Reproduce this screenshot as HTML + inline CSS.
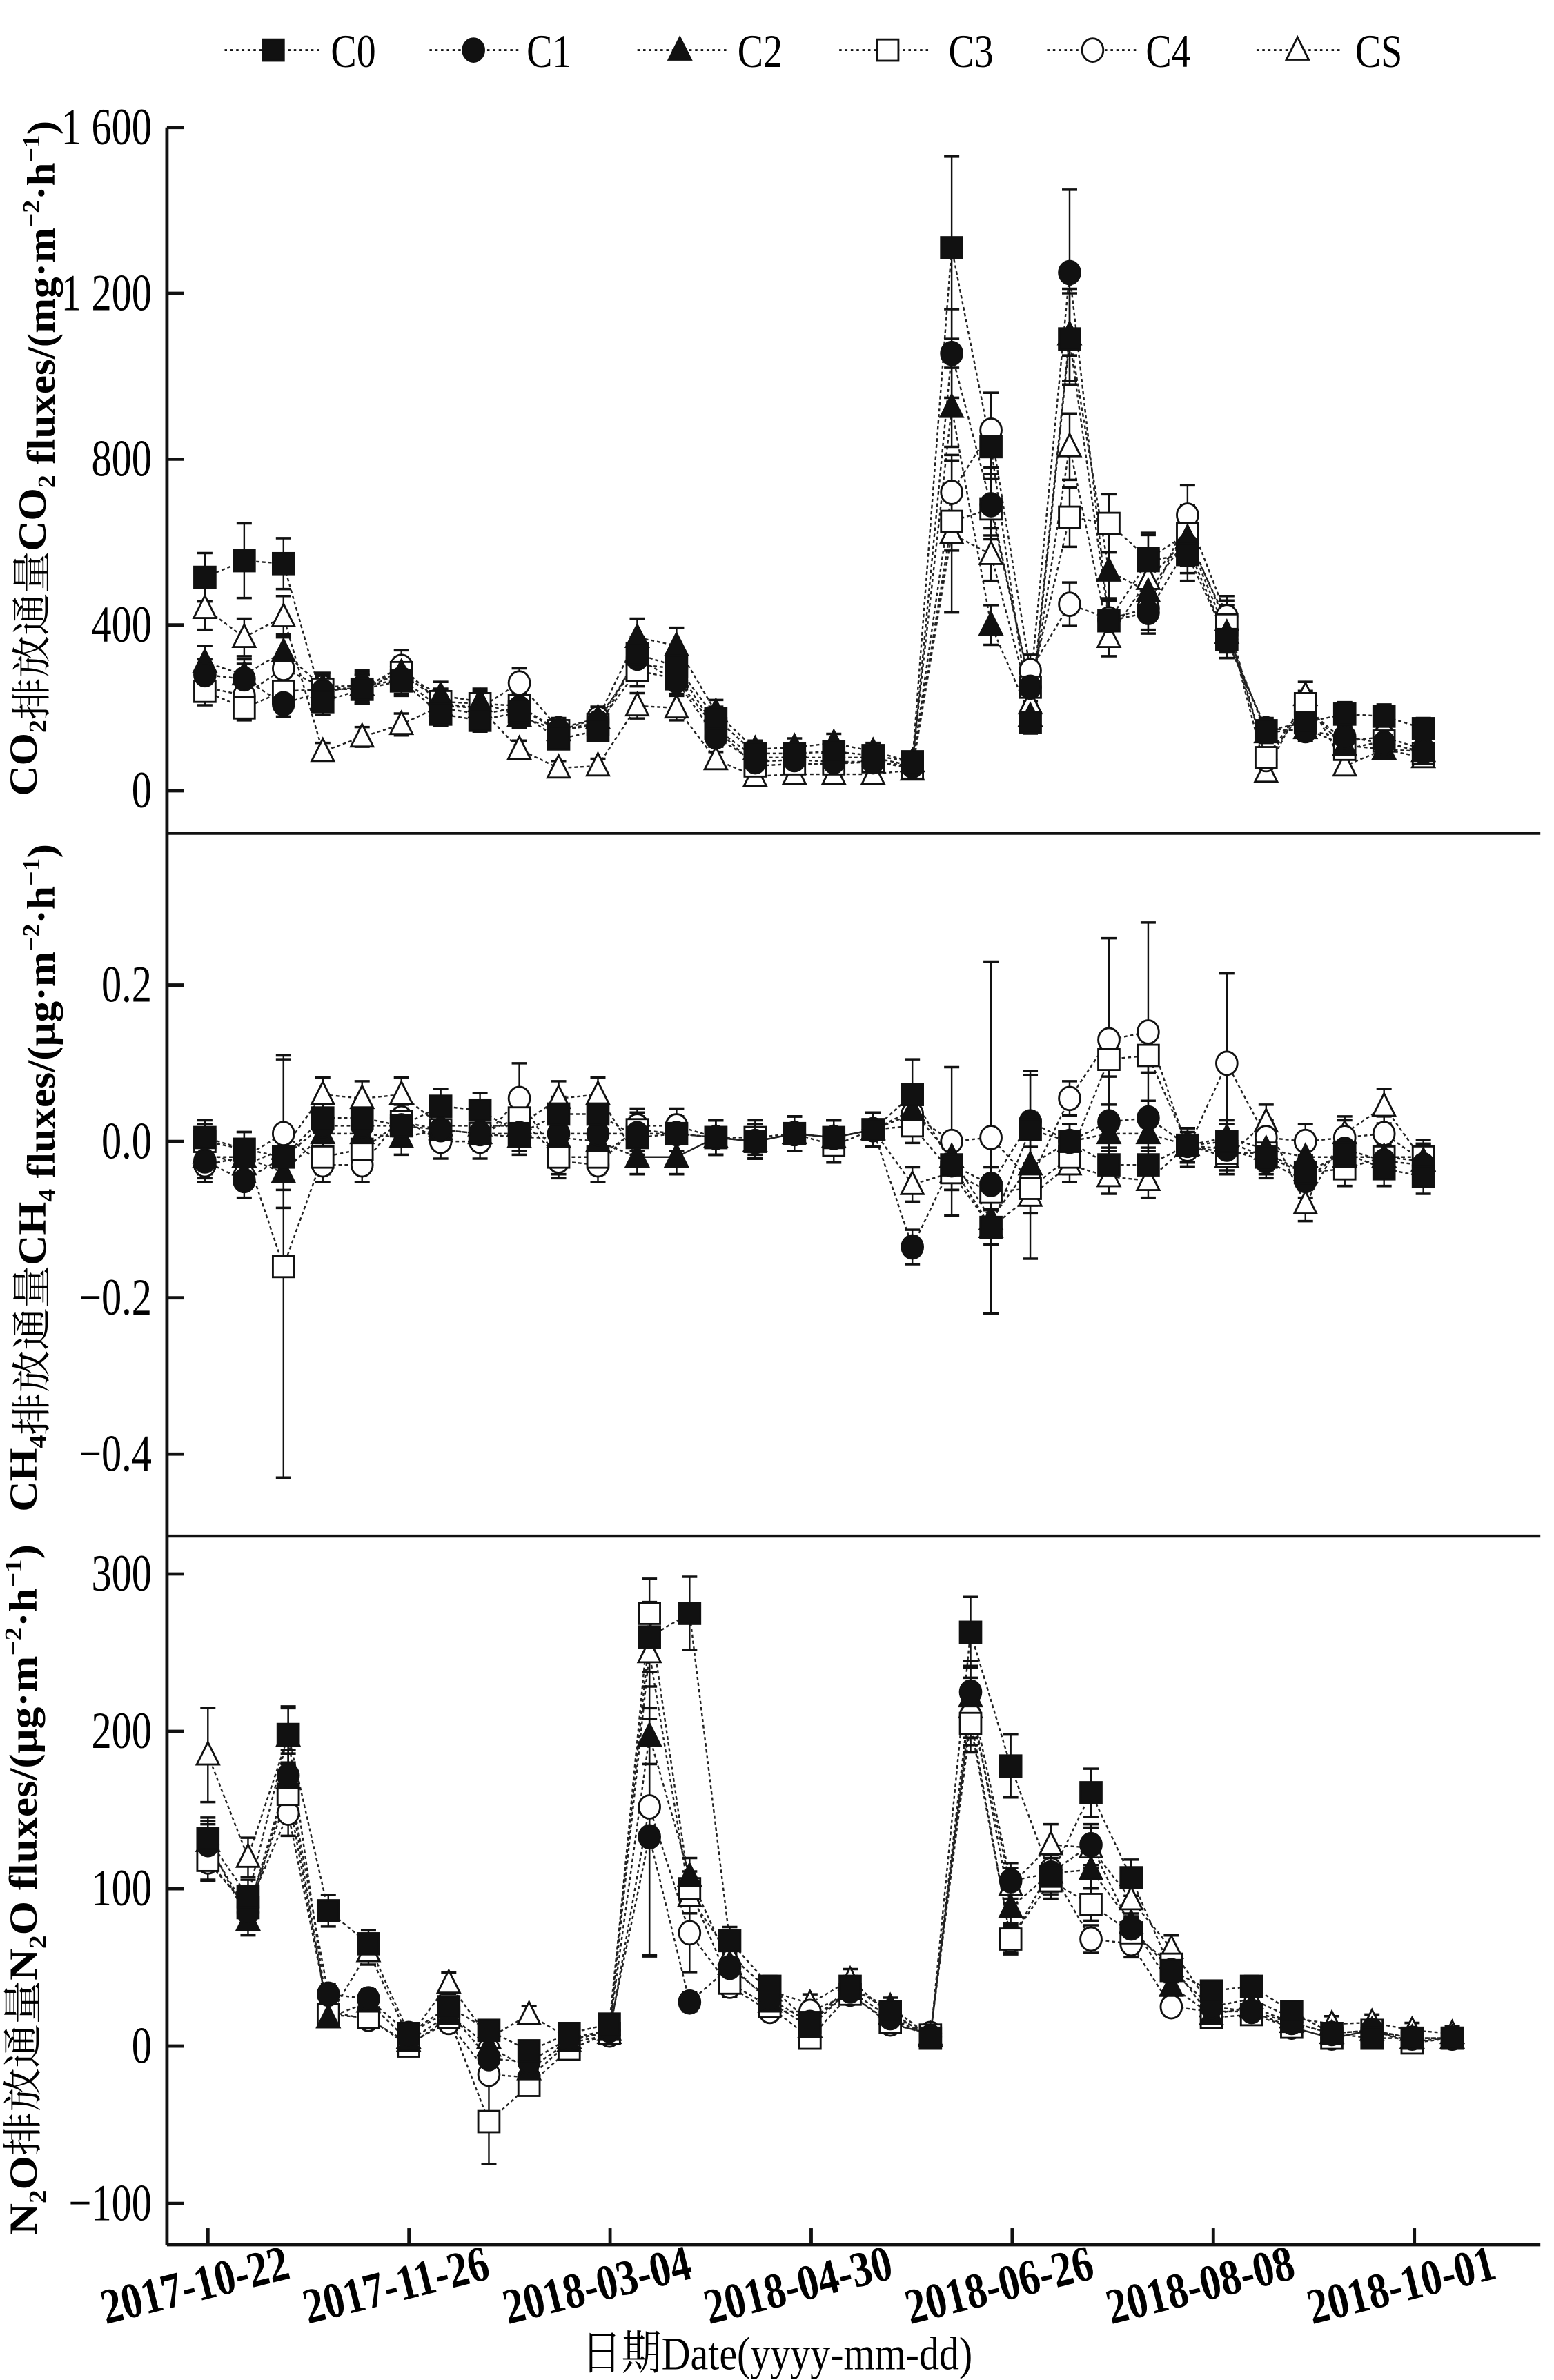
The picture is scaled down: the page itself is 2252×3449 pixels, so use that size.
<!DOCTYPE html>
<html><head><meta charset="utf-8">
<style>html,body{margin:0;padding:0;background:#fff;}svg{display:block;}</style>
</head><body>
<svg id="s" xmlns="http://www.w3.org/2000/svg" width="2252" height="3449" viewBox="0 0 1024 1568" preserveAspectRatio="none" font-family="'Liberation Serif','Noto Serif CJK SC',serif">
<rect width="1024" height="1568" fill="#fff"/>
<g id="g"></g>
</svg>
<script>
const G=document.getElementById('g');
let out='';
function line(x1,y1,x2,y2,w,dash){out+=`<line x1="${x1}" y1="${y1}" x2="${x2}" y2="${y2}" stroke="#111" stroke-width="${w}"${dash?` stroke-dasharray="${dash}"`:''}/>`;}
function text(x,y,t,size,anchor,extra){out+=`<text x="${x}" y="${y}" font-size="${size}" text-anchor="${anchor||'start'}" ${extra||''}>${t}</text>`;}
function marker(k,x,y,s){s=s||7;
 const fill=k<3?'#111':'#fff';
 if(k%3==0) out+=`<rect x="${x-s}" y="${y-s}" width="${2*s}" height="${2*s}" fill="${fill}" stroke="#111" stroke-width="1.3"/>`;
 else if(k%3==1) out+=`<ellipse cx="${x}" cy="${y}" rx="${s}" ry="${s*1.1}" fill="${fill}" stroke="#111" stroke-width="1.3"/>`;
 else out+=`<polygon points="${x},${y-s*1.2} ${x+s*1.05},${y+s*0.9} ${x-s*1.05},${y+s*0.9}" fill="${fill}" stroke="#111" stroke-width="1.3"/>`;}
line(110,84,110,1479,2.2);
line(110,549,1015,549,2);line(110,1012,1015,1012,2);line(110,1479,1015,1479,2);
function ytick(y,lab){line(110,y,121,y,2.2);text(100,y+11,lab,34,'end',`transform="translate(100 0) scale(0.78 1) translate(-100 0)"`);}
const c2y=v=>521-v*437/1600;
[[1600,'1 600'],[1200,'1 200'],[800,'800'],[400,'400'],[0,'0']].forEach(a=>ytick(c2y(a[0]),a[1]));
const c4y=v=>752-v*515;
[[0.2,'0.2'],[0,'0.0'],[-0.2,'−0.2'],[-0.4,'−0.4']].forEach(a=>ytick(c4y(a[0]),a[1]));
const n2y=v=>1348-v*311/300;
[[300,'300'],[200,'200'],[100,'100'],[0,'0'],[-100,'−100']].forEach(a=>ytick(n2y(a[0]),a[1]));
const dates=['2017-10-22','2017-11-26','2018-03-04','2018-04-30','2018-06-26','2018-08-08','2018-10-01'];
for(let i=0;i<7;i++){const x=137+i*132.5;line(x,1479,x,1468,2.2);
 out+=`<text font-size="33" font-weight="bold" text-anchor="middle" transform="translate(${x-6} 1516) rotate(-14) scale(0.82 1)">${dates[i]}</text>`;}
const CO2=[
[515,555,548,215,245,265,185,170,190,125,145,330,300,175,90,90,95,85,70,1310,830,165,1090,410,555,570,365,145,165,185,180,150],
[280,270,210,240,250,270,200,185,200,145,165,320,265,130,70,75,70,70,60,1055,690,250,1250,410,430,590,365,150,145,130,115,95],
[310,280,335,250,255,285,230,215,180,145,175,370,350,190,100,105,115,95,70,925,400,180,1100,530,480,610,380,140,150,110,100,95],
[240,200,240,245,245,285,215,210,205,145,160,290,270,150,60,65,65,70,55,650,680,250,660,645,560,620,400,80,210,100,120,90],
[250,230,295,250,245,300,210,200,260,150,175,305,295,150,80,80,80,80,60,720,870,290,450,415,440,665,420,75,200,120,130,100],
[440,370,420,95,130,160,205,200,100,55,60,205,200,75,35,40,40,40,50,620,570,210,830,370,510,610,410,45,230,60,100,80]];
const CH4=[
[0.005,-0.01,-0.02,0.03,0.03,0.02,0.045,0.04,0.01,0.035,0.035,0.005,0.01,0.005,0.0,0.01,0.005,0.015,0.06,-0.03,-0.11,0.015,0.0,-0.03,-0.03,-0.005,0.0,-0.02,-0.04,-0.015,-0.035,-0.045],
[-0.025,-0.05,-0.02,0.02,0.02,0.02,0.015,0.01,0.01,0.01,0.01,0.01,0.01,0.005,0.0,0.01,0.005,0.015,-0.135,-0.03,-0.055,0.025,0.0,0.025,0.03,-0.005,-0.01,-0.025,-0.05,-0.01,-0.025,-0.03],
[-0.02,-0.02,-0.04,0.01,0.01,0.005,0.015,0.01,0.005,0.005,0.0,-0.02,-0.02,0.005,0.0,0.01,0.005,0.015,0.04,-0.02,-0.1,-0.03,0.0,0.01,0.01,-0.005,0.005,-0.01,-0.02,-0.02,-0.02,-0.025],
[0.0,-0.01,-0.16,-0.02,-0.01,0.025,0.015,0.01,0.03,-0.02,-0.02,0.015,0.01,0.005,0.005,0.01,-0.005,0.015,0.02,-0.04,-0.065,-0.06,-0.02,0.105,0.11,-0.005,-0.015,-0.015,-0.04,-0.035,-0.02,-0.02],
[-0.03,-0.02,0.01,-0.03,-0.03,0.03,0.0,0.0,0.055,-0.025,-0.03,0.02,0.02,0.005,0.0,0.01,0.005,0.015,0.035,0.0,0.005,-0.05,0.055,0.13,0.14,-0.01,0.1,0.005,0.0,0.005,0.01,-0.025],
[-0.015,-0.03,-0.01,0.06,0.055,0.06,0.02,0.02,0.02,0.055,0.06,-0.02,-0.02,0.005,0.0,0.01,0.005,0.015,-0.055,-0.04,-0.11,-0.07,-0.03,-0.045,-0.05,-0.005,-0.02,0.025,-0.08,0.01,0.045,-0.025]];
const N2O=[
[132,95,198,86,65,8,25,10,-3,8,14,260,275,67,38,15,38,22,5,263,178,108,161,107,48,35,38,22,8,5,5,5],
[128,85,172,33,30,8,22,-8,-10,5,10,133,28,50,30,15,35,18,6,225,105,110,128,75,48,25,22,15,8,10,5,5],
[130,80,170,18,28,3,20,0,-15,3,10,197,108,52,28,12,36,25,6,222,88,110,112,78,38,20,25,15,8,10,5,5],
[118,88,160,20,18,0,18,-48,-25,-2,8,275,100,40,25,5,33,15,7,205,68,105,90,72,52,18,20,12,5,10,2,5],
[117,88,148,22,17,2,15,-18,-20,2,7,152,72,38,22,22,33,14,8,210,67,112,68,65,25,22,22,12,5,10,3,5],
[185,120,197,18,60,5,40,5,20,5,8,250,95,58,35,27,42,20,7,215,102,128,126,93,62,25,30,18,14,15,10,8]];
function panel(data,yf,x0,dx,errf){
 for(let k=0;k<6;k++){let p=data[k].map((v,i)=>`${(x0+dx*i).toFixed(1)},${yf(v).toFixed(1)}`).join(' ');
  out+=`<polyline points="${p}" fill="none" stroke="#222" stroke-width="1.1" stroke-dasharray="2.2 1.8"/>`;}
 for(let k=0;k<6;k++)data[k].forEach((v,i)=>{const x=x0+dx*i;const e=errf(v,k,i);if(e<=0)return;
  const y1=yf(v+e),y2=yf(v-e);line(x,y1,x,y2,1.1);line(x-5,y1,x+5,y1,1.6);line(x-5,y2,x+5,y2,1.6);});
 for(let k=5;k>=0;k--)data[k].forEach((v,i)=>marker(k,x0+dx*i,yf(v)));
}
panel(CO2,c2y,135,25.9,(v,k,i)=>{if(i==19&&k==0)return 220;if(i==22&&k==1)return 200;if(i==20&&k==0)return 130;if(i==22&&k==5)return 80;if(i==19&&k==5)return 190;if(i==23&&k==2)return 120;if(i==1&&k==0)return 90;return v*0.09+12;});
panel(CH4,c4y,135,25.9,(v,k,i)=>{if(i==2&&k==3)return 0.27;if(i==2&&k==4)return 0.095;if(i==20&&k==4)return 0.225;if(i==20&&k==0)return 0.11;if(i==23&&k==4)return 0.13;if(i==24&&k==4)return 0.14;if(i==26&&k==4)return 0.115;if(i==19&&k==4)return 0.095;if(i==21&&k==1)return 0.06;if(i==21&&k==2)return 0.12;if(i==18&&k==0)return 0.045;if(i==8&&k==4)return 0.045;return 0.022;});
panel(N2O,n2y,137,26.45,(v,k,i)=>{if(i==11&&k==4)return 95;if(i==11&&k==1)return 75;if(i==11&&k==3)return 22;if(i==7&&k==3)return 27;if(i==0&&k==5)return 30;if(i==12&&k==4)return 25;if(i==20&&k==0)return 20;return Math.abs(v)*0.07+4;});
const L=[[148,212,180,218,'C0'],[283,343,312,347,'C1'],[420,480,448,486,'C2'],[553,612,585,625,'C3'],[690,750,720,755,'C4'],[828,885,855,893,'CS']];
L.forEach((a,k)=>{line(a[0],33,a[1],33,1.3,'1.6 2.2');marker(k,a[2],33,7);text(a[3],44,a[4],31,'start',`transform="translate(${a[3]} 0) scale(0.82 1) translate(${-a[3]} 0)"`);});
function ylab(cy,len,html){
 out+=`<text font-size="26" font-weight="bold" text-anchor="middle" transform="translate(24 ${cy}) rotate(-90)" textLength="${len}" lengthAdjust="spacingAndGlyphs">${html}</text>`;}
const S=(t)=>`<tspan font-size="16" dy="6">${t}</tspan><tspan dy="-6">`;
const U=(u)=>` fluxes/(${u}·m<tspan font-size="16" dy="-10">−2</tspan><tspan dy="10">·h</tspan><tspan font-size="16" dy="-10">−1</tspan><tspan dy="10">)</tspan>`;
ylab(302,445,`CO${S(2)}</tspan><tspan font-weight="normal">排放通量</tspan>CO${S(2)}</tspan>${U('mg')}`);
ylab(776,440,`CH${S(4)}</tspan><tspan font-weight="normal">排放通量</tspan>CH${S(4)}</tspan>${U('μg')}`);
ylab(1245,455,`N${S(2)}O</tspan><tspan font-weight="normal">排放通量</tspan>N${S(2)}O</tspan>${U('μg')}`);
text(512,1561,'日期Date(yyyy-mm-dd)',31,'middle',`transform="translate(512 0) scale(0.85 1) translate(-512 0)"`);
G.innerHTML=out;
</script>
</body></html>
